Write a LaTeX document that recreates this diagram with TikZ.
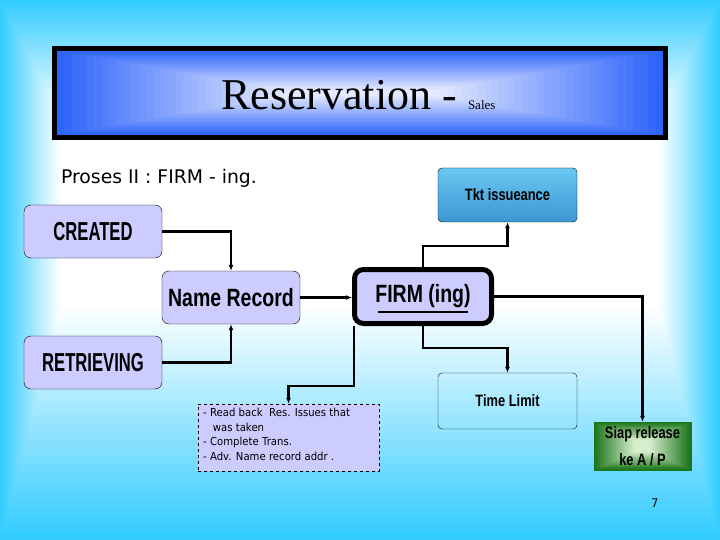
\documentclass[tikz,border=0pt]{standalone}
\usepackage{fontspec}
\setmainfont{Liberation Serif}
\newfontfamily\capsfont[FakeStretch=0.64]{Liberation Sans}
\newfontfamily\boxfont[FakeStretch=0.78]{Liberation Sans}
\newfontfamily\prosesfont{DejaVu Sans}
\newfontfamily\notefont[FakeStretch=0.92]{DejaVu Sans}
\usetikzlibrary{arrows.meta}
\definecolor{bgcyan}{RGB}{51,204,255}
\definecolor{barblue}{RGB}{45,100,250}
\definecolor{barlight}{RGB}{228,234,255}
\definecolor{lavender}{RGB}{204,204,255}
\definecolor{tkttop}{RGB}{105,200,242}
\definecolor{tktbot}{RGB}{60,150,210}
\definecolor{siapdark}{RGB}{28,118,28}
\definecolor{siaplight}{RGB}{215,238,205}
\begin{document}
\begin{tikzpicture}[x=1pt,y=-1pt,
  lav/.style={draw=black,thin,fill=lavender,rounded corners=7pt,inner sep=0pt,
    minimum width=138pt,minimum height=53pt},
  capslabel/.style={font=\capsfont\bfseries\fontsize{26}{26}\selectfont},
  wide/.style={font=\boxfont\bfseries\fontsize{25}{25}\selectfont},
  small/.style={font=\boxfont\bfseries\fontsize{16.5}{16.5}\selectfont},
  conn/.style={line width=2.2pt,-{Latex[length=6pt,width=5pt]}}]
\useasboundingbox (0,0) rectangle (720,540);
\foreach \i in {0,...,30}{
  \pgfmathsetmacro\f{\i/30}
  \pgfmathsetmacro\p{100*\f}
  \fill[white!\p!bgcyan] ({60*\f},{115*\f}) rectangle ({720-60*\f},{540-230*\f});
}
\fill[black] (52,46) rectangle (668,140);
\foreach \i in {0,...,30}{
  \pgfmathsetmacro\f{\i/30}
  \pgfmathsetmacro\p{100*\f}
  \fill[barlight!\p!barblue] ({57+223*\f},{51+39*\f}) rectangle ({663-223*\f},{135-39*\f});
}
\node[anchor=base west,inner sep=0pt] (title) at (221,110)
  {\fontsize{44}{44}\selectfont Reservation - {\fontsize{13}{13}\selectfont Sales}};
\node[font=\prosesfont\fontsize{18.8}{18.8}\selectfont,inner sep=0pt] (proses) at (159,178) {Proses II : FIRM - ing.};

\node[lav,capslabel] (created) at (93,231.5) {CREATED};
\node[lav,wide] (namerec) at (231,297.5) {Name Record};
\node[lav,capslabel] (retr) at (93,362.5) {RETRIEVING};
\node[lav,wide,line width=5pt,rounded corners=9pt,minimum width=137pt,minimum height=54pt] (firm) at (423,296.5) {FIRM (ing)};
\draw[line width=1.8pt] (firm.center) ++(-45,15.5) -- ++(90,0);
\node[small,draw=black,thin,top color=tkttop,bottom color=tktbot,rounded corners=4pt,
  minimum width=139pt,minimum height=54pt,inner sep=0pt] (tkt) at (507.5,195) {Tkt issueance};
\node[small,draw=black,thin,rounded corners=4pt,minimum width=139pt,minimum height=56pt,inner sep=0pt] (tlimit) at (507.5,401) {Time Limit};
\foreach \i in {0,...,20}{
  \pgfmathsetmacro\f{\i/20}
  \pgfmathsetmacro\p{100*\f}
  \fill[siaplight!\p!siapdark] ({594+40*\f},{422+18*\f}) rectangle ({691-40*\f},{470-18*\f});
}
\node[draw=siapdark,thin,minimum width=97pt,minimum height=48pt,inner sep=0pt] (siap) at (642.5,446) {};
\node[small,align=center,inner sep=0pt,font=\boxfont\bfseries\fontsize{16.5}{27}\selectfont] (siaptext) at (642.5,446) {Siap release\\ke A / P};
\node[draw=black,thin,dashed,fill=lavender,minimum width=181pt,minimum height=67pt,inner sep=0pt] (note) at (288.5,437.5) {};
\node[anchor=north west,align=left,inner sep=0pt,font=\notefont\fontsize{11}{14.5}\selectfont] (notetext) at (203,408)
  {- Read back\ \ Res. Issues that\\\ \ \ was taken\\- Complete Trans.\\- Adv. Name record addr .};
\node[font=\notefont\fontsize{12}{12}\selectfont] (page) at (655,503) {7};

\draw[conn] (created.east) -| (namerec.north);
\draw[conn] (retr.east) -| (namerec.south);
\draw[conn] (namerec.east) -- (namerec.east -| firm.west);
\draw[conn] (firm.north) -- ++(0,-21) -| (tkt.south);
\draw[conn] (firm.south) -- ++(0,22) -| (tlimit.north);
\draw[conn] (firm.east) -| (siap.north);
\coordinate (firmout) at ([xshift=2pt]firm.south west);
\draw[conn] (firmout) -- ++(0,60) -| (note.north);
\end{tikzpicture}
\end{document}
